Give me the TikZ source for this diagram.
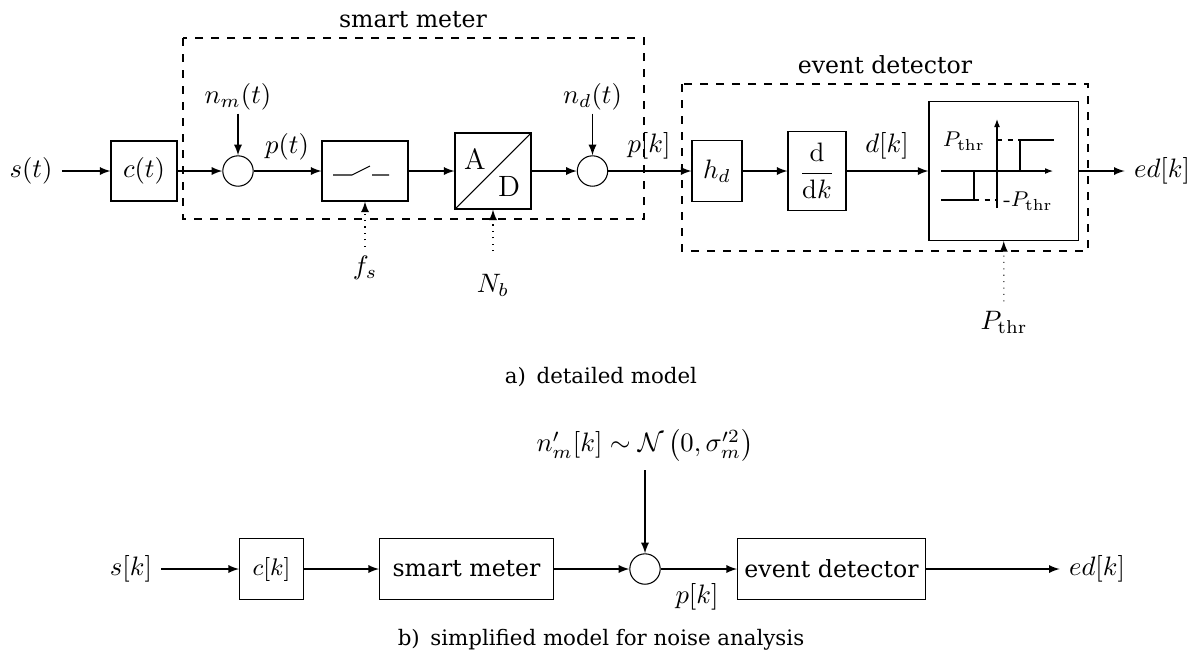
\documentclass[tikz,border=0pt]{standalone}
\usepackage{fontspec}
\usepackage{amsmath}
\newfontfamily\chfont{DejaVu Serif}
\usetikzlibrary{arrows.meta}
\begin{document}
\begin{tikzpicture}[x=0.375pt,y=-0.375pt,>=latex,
  blk/.style={draw,inner sep=0pt},
  bbox/.style={draw,inner sep=0pt,anchor=west,minimum height=22.9pt,font=\chfont\fontsize{8.85}{10}\selectfont},
  sumc/.style={draw,circle,minimum size=11.4pt,inner sep=0pt},
  lbl/.style={inner sep=1pt},
  ttl/.style={anchor=base,font=\chfont\fontsize{8.85}{10}\selectfont},
  captxt/.style={anchor=base,font=\chfont\fontsize{8}{10}\selectfont},
  ax/.style={-{Latex[length=3pt,width=2.2pt]}},
  ctrl/.style={dotted,->}]
\useasboundingbox (0,0) rectangle (1201,663);
% ---------- a) detailed model ----------
\node (st) at (31,171) {$s(t)$};
\node[blk,minimum width=24.75pt,minimum height=22.5pt] (ct) at (144,171) {$c(t)$};
\node[sumc] (s1) at (238,171) {};
\node[blk,minimum width=32.25pt,minimum height=22.5pt] (sw) at (365,171) {};
\node[blk,minimum size=28.5pt] (ad) at (493,171) {};
\node[sumc] (s2) at (592.5,171) {};
\node[blk,minimum width=18.75pt,minimum height=22.9pt] (hd) at (717,171) {$h_d$};
\node[blk,minimum width=21.75pt,minimum height=29.6pt] (dd) at (817,171) {$\dfrac{\mathrm{d}}{\mathrm{d}k}$};
\node[blk,minimum width=55.9pt,minimum height=52.1pt] (th) at (1003.5,171) {};
\node (edt) at (1162,171) {$ed[k]$};

\draw[->] (st) -- (ct);
\draw[->] (ct) -- (s1);
\draw[->] (s1) -- (sw);
\draw[->] (sw) -- (ad);
\draw[->] (ad) -- (s2);
\draw[->] (s2) -- (hd);
\draw[->] (hd) -- (dd);
\draw[->] (dd) -- (th);
\draw[->] (th) -- (edt);

\node[lbl] (nm) at (238,97) {$n_m(t)$};
\draw[->] (nm) -- (s1);
\node[lbl] (nd) at (592.5,97) {$n_d(t)$};
\draw[->] (nd) -- (s2);
\node (pt) at (287,147) {$p(t)$};
\node (pk) at (649,146) {$p[k]$};
\node (dk) at (887,146) {$d[k]$};

% switch symbol
\draw (333,175) -- (352,175) -- (370,166) (372,175) -- (389,175);
% A/D
\draw (ad.south west) -- (ad.north east);
\node[font=\fontsize{11}{13}\selectfont] (la) at (475,159) {A};
\node[font=\fontsize{11}{13}\selectfont] (ld) at (509,186) {D};

% dashed groups
\draw[dashed] (183,38) rectangle (644,219);
\draw[dashed] (682,84) rectangle (1088,251);
\node[ttl] (t1) at (413,27) {smart meter};
\node[ttl] (t2) at (885,73) {event detector};

% control inputs
\node (fs) at (365,268) {$f_s$};
\draw[ctrl] (fs) -- (sw);
\node (nb) at (493,285) {$N_b$};
\draw[ctrl,shorten <=5pt] (nb) -- (ad);
\node (pthr) at (1004,322) {$P_{\mathrm{thr}}$};
\draw[ctrl] (pthr) -- (th);

% threshold characteristic
\draw[ax] (941,171) -- (1053,171);
\draw[ax] (997,208) -- (997,119);
\draw[thick] (941,200) -- (974,200) -- (974,171) -- (1020,171) -- (1020,140) -- (1054,140);
\draw[dash pattern=on 2pt off 2pt] (974,200) -- (997,200) (997,140) -- (1020,140);
\node[font=\footnotesize,anchor=east,inner sep=1pt] (pl) at (988,141) {$P_{\mathrm{thr}}$};
\node[font=\footnotesize,inner sep=1pt] (ml) at (1028,201) {-$P_{\mathrm{thr}}$};

\node[captxt] (capa) at (601,383) {a)\enspace detailed model};

% ---------- b) simplified model ----------
\node (sk) at (131,569) {$s[k]$};
\node[bbox,minimum width=24pt] (ck) at (239,569) {$c[k]$};
\node[bbox,minimum width=65.25pt] (sm) at (379,569) {smart meter};
\node[sumc] (s3) at (645,569) {};
\node[bbox,minimum width=70.5pt] (ed) at (737,569) {event detector};
\node (edk) at (1097,569) {$ed[k]$};
\node (nm2) at (645,445) {$n'_m[k] \sim \mathcal{N}\left(0,\sigma'^2_m\right)$};
\node (pk2) at (697,597) {$p[k]$};

\draw[->] (sk) -- (ck);
\draw[->] (ck) -- (sm);
\draw[->] (sm) -- (s3);
\draw[->] (s3) -- (ed);
\draw[->] (ed) -- (edk);
\draw[->] (nm2) -- (s3);

\node[captxt] (capb) at (601,645) {b)\enspace simplified model for noise analysis};
\end{tikzpicture}
\end{document}
